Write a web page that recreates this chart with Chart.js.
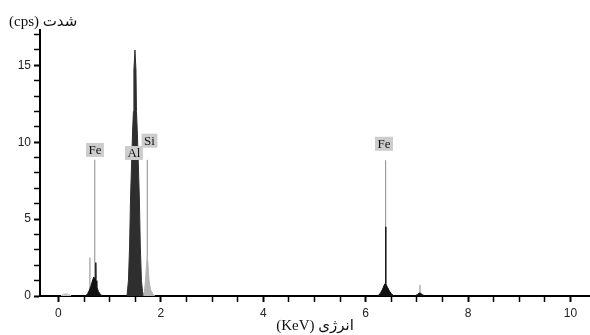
<!DOCTYPE html>
<html><head><meta charset="utf-8">
<script src="https://cdn.jsdelivr.net/npm/chart.js@4.4.1/dist/chart.umd.min.js"></script>
<style>html,body{margin:0;padding:0;background:#fff;}canvas{display:block;}</style>
</head><body>
<canvas id="c" width="590" height="335"></canvas>
<script>
// ---- data (energy in keV, intensity in cps) ----
const lowEnergy = [0.05, 0.10, 0.15, 0.20, 0.25];
const lowCounts = [0, 0.12, 0.15, 0.10, 0];
const feLEnergy = [0.53, 0.57, 0.60, 0.63, 0.66, 0.69, 0.71, 0.725, 0.73, 0.735, 0.75, 0.78, 0.82, 0.86];
const feLCounts = [0, 0.15, 0.35, 0.6, 0.95, 1.24, 1.1, 1.15, 2.17, 1.0, 0.6, 0.3, 0.1, 0];
const alEnergy = [1.338, 1.367, 1.389, 1.409, 1.449, 1.464, 1.474, 1.494, 1.514, 1.524, 1.539, 1.579, 1.599, 1.621, 1.65];
const alCounts = [0, 1.0, 3.2, 6.5, 10.8, 12.0, 14.7, 16.0, 14.7, 12.0, 10.8, 6.5, 3.2, 1.0, 0];
const siEnergy = [1.64, 1.68, 1.70, 1.72, 1.735, 1.75, 1.77, 1.80, 1.84, 1.88];
const siCounts = [0, 0.3, 1.0, 2.0, 2.56, 2.0, 1.0, 0.4, 0.15, 0];
const feKEnergy = [6.24, 6.29, 6.33, 6.36, 6.385, 6.39, 6.395, 6.42, 6.46, 6.50, 6.55];
const feKCounts = [0, 0.2, 0.45, 0.7, 0.83, 4.5, 0.8, 0.6, 0.35, 0.15, 0];
const p7Energy = [6.96, 7.01, 7.05, 7.06, 7.07, 7.11, 7.16];
const p7Counts = [0, 0.1, 0.2, 0.2, 0.18, 0.08, 0];
const spikeEnergy = [0.615, 7.06];
const spikeCounts = [2.5, 0.72];
const markerEnergy = [0.71, 1.735, 6.39];
const markerTop = [8.86, 8.86, 8.83];
const labelText = ['Fe', 'Al', 'Si', 'Fe'];
const labelEnergy = [0.713, 1.475, 1.778, 6.357];
const labelCount = [9.5, 9.3, 10.1, 9.9];
const xTicks = [0, 0.5, 1, 1.5, 2, 2.5, 3, 3.5, 4, 4.5, 5, 5.5, 6, 6.5, 7, 7.5, 8, 8.5, 9, 9.5, 10];
const xTickLabels = [0, 2, 4, 6, 8, 10];
const yTicks = [0, 1, 2, 3, 4, 5, 6, 7, 8, 9, 10, 11, 12, 13, 14, 15, 16, 17];
const yTickLabels = [0, 5, 10, 15];
const xTitle = 'انرژی (KeV)';
const yTitle = 'شدت (cps)';

const pts = (xs, ys) => xs.map((x, i) => ({x: x, y: ys[i]}));
function peak(xs, ys, color, order) {
  return {data: pts(xs, ys), showLine: true, fill: 'origin', borderColor: color,
    backgroundColor: color, borderWidth: 1, pointRadius: 0, tension: 0, order: order};
}
function vlines(xs, tops, color, order) {
  const d = [];
  xs.forEach((x, i) => { d.push({x: x, y: 0}); d.push({x: x, y: tops[i]}); d.push({x: x, y: null}); });
  return {data: d, showLine: true, fill: false, spanGaps: false, borderColor: color,
    borderWidth: 1, pointRadius: 0, tension: 0, order: order};
}

const serif = '"Liberation Serif", "DejaVu Serif", "DejaVu Sans", serif';

const overlay = {
  id: 'overlay',
  afterDraw(chart) {
    const ctx = chart.ctx, xs = chart.scales.x, ys = chart.scales.y;
    ctx.save();
    ctx.font = '13px ' + serif;
    ctx.textAlign = 'center';
    ctx.textBaseline = 'middle';
    labelText.forEach((t, i) => {
      const px = xs.getPixelForValue(labelEnergy[i]);
      const py = ys.getPixelForValue(labelCount[i]);
      const w = ctx.measureText(t).width + 5;
      ctx.fillStyle = '#cdcdcd';
      ctx.fillRect(px - w / 2, py - 7, w, 14);
      ctx.fillStyle = '#111';
      ctx.fillText(t, px, py + 0.5);
    });
    ctx.direction = 'rtl';
    ctx.fillStyle = '#111';
    ctx.font = '15px ' + serif;
    ctx.textAlign = 'center';
    ctx.fillText(xTitle, (chart.chartArea.left + chart.chartArea.right) / 2, 326);
    ctx.font = '15px ' + serif;
    ctx.textAlign = 'left';
    ctx.fillText(yTitle, 9, 22);
    ctx.restore();
  }
};

new Chart(document.getElementById('c'), {
  type: 'scatter',
  data: {datasets: [
    peak(alEnergy, alCounts, '#2e2e2e', 1),
    peak(feLEnergy, feLCounts, '#111111', 1),
    peak(feKEnergy, feKCounts, '#111111', 1),
    peak(p7Energy, p7Counts, '#111111', 1),
    peak(siEnergy, siCounts, '#b4b4b4', 2),
    peak(lowEnergy, lowCounts, '#c8c8c8', 2),
    vlines(spikeEnergy, spikeCounts, '#8a8a8a', 3),
    vlines(markerEnergy, markerTop, '#8a8a8a', 3)
  ]},
  options: {
    responsive: false, animation: false, devicePixelRatio: 1,
    layout: {padding: {top: 30, right: 0, left: 0, bottom: 0}},
    plugins: {legend: {display: false}, tooltip: {enabled: false}},
    scales: {
      x: {
        type: 'linear', min: -0.36, max: 10.38,
        afterBuildTicks: s => { s.ticks = xTicks.map(v => ({value: v})); },
        afterFit: s => { s.height = 39; },
        border: {display: true, color: '#000', width: 2},
        grid: {drawOnChartArea: false, drawTicks: true, tickLength: 6, tickColor: '#000',
          tickWidth: c => (c.tick && xTickLabels.includes(c.tick.value)) ? 2 : 1.5},
        ticks: {autoSkip: false, maxRotation: 0, padding: 4, color: '#222',
          font: {family: '"Liberation Sans", Arial, sans-serif', size: 12},
          callback: v => xTickLabels.includes(v) ? String(v) : ''}
      },
      y: {
        type: 'linear', min: 0, max: 17.3,
        afterBuildTicks: s => { s.ticks = yTicks.map(v => ({value: v})); },
        afterFit: s => { s.width = 40; },
        border: {display: true, color: '#000', width: 2},
        grid: {drawOnChartArea: false, drawTicks: true, tickLength: 6, tickColor: '#000',
          tickWidth: c => (c.tick && yTickLabels.includes(c.tick.value)) ? 2 : 1.5},
        ticks: {autoSkip: false, padding: 3, color: '#222',
          font: {family: '"Liberation Sans", Arial, sans-serif', size: 12},
          callback: v => yTickLabels.includes(v) ? String(v) : ''}
      }
    }
  },
  plugins: [overlay]
});
</script>
</body></html>
